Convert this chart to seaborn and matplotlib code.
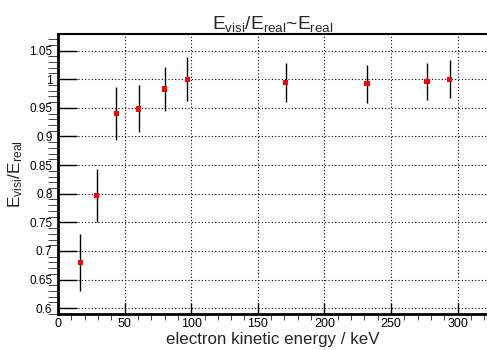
import numpy as np
import pandas as pd
import seaborn as sns
from matplotlib import pyplot as plt
from matplotlib.ticker import MultipleLocator

sns.set_style("ticks")
plt.rcParams['font.family'] = ['Liberation Sans', 'DejaVu Sans']
plt.rcParams['mathtext.fontset'] = 'custom'
plt.rcParams['mathtext.rm'] = 'Liberation Sans'
plt.rcParams['mathtext.it'] = 'Liberation Sans'

# data
energy = [16.7, 29.2, 43.7, 60.5, 80.0, 97.2, 171.0, 232.0, 277.0, 294.0]
ratio = [0.680, 0.797, 0.940, 0.948, 0.983, 1.000, 0.994, 0.992, 0.996, 1.000]
ratio_err = [0.050, 0.046, 0.046, 0.041, 0.039, 0.038, 0.034, 0.033, 0.033, 0.033]
ytick_vals = [0.6, 0.65, 0.7, 0.75, 0.8, 0.85, 0.9, 0.95, 1.0, 1.05]
ytick_labels = ["0.6", "0.65", "0.7", "0.75", "0.8", "0.85", "0.9", "0.95", "1", "1.05"]

df = pd.DataFrame({"energy": energy, "ratio": ratio, "err": ratio_err})

fh = plt.figure(figsize=(4.87, 3.5), dpi=100)
ah = fh.add_axes([0.119, 0.103, 0.881, 0.800])

ah.errorbar(df["energy"], df["ratio"], yerr=df["err"], fmt="none",
            ecolor="black", elinewidth=1, capsize=0, zorder=2)
sns.scatterplot(x="energy", y="ratio", data=df, ax=ah, marker="s", s=14,
                color="red", edgecolor="none", zorder=3)

ah.set_xlim(0, 322)
ah.set_ylim(0.59, 1.079)
ah.xaxis.set_major_locator(MultipleLocator(50))
ah.xaxis.set_minor_locator(MultipleLocator(10))
ah.yaxis.set_minor_locator(MultipleLocator(0.01))
ah.set_yticks(ytick_vals)
ah.set_yticklabels(ytick_labels)
ah.grid(True, which="major", color="black", linestyle=(0, (1, 2)), linewidth=0.8)

ah.tick_params(axis='both', direction='in', width=1, colors="black")
ah.tick_params(axis='y', which='major', length=14, pad=4, labelsize=8.5)
ah.tick_params(axis='y', which='minor', length=7)
ah.tick_params(axis='x', which='major', length=8, pad=3, labelsize=9)
ah.tick_params(axis='x', which='minor', length=4)

ah.spines["right"].set_visible(False)
ah.spines["left"].set_linewidth(2)
ah.spines["bottom"].set_linewidth(2)
ah.spines["top"].set_linewidth(1.5)
for s in ah.spines.values():
    s.set_color("black")

ah.set_xlabel("electron kinetic energy / keV", fontsize=12.2, labelpad=1)
ah.set_ylabel(r"E$_{\mathregular{visi}}$/E$_{\mathregular{real}}$", fontsize=12.5, labelpad=3)
ah.set_title(r"E$_{\mathregular{visi}}$/E$_{\mathregular{real}}$~E$_{\mathregular{real}}$",
             fontsize=13.8, pad=1)

fh.savefig("out.png", dpi=100)
